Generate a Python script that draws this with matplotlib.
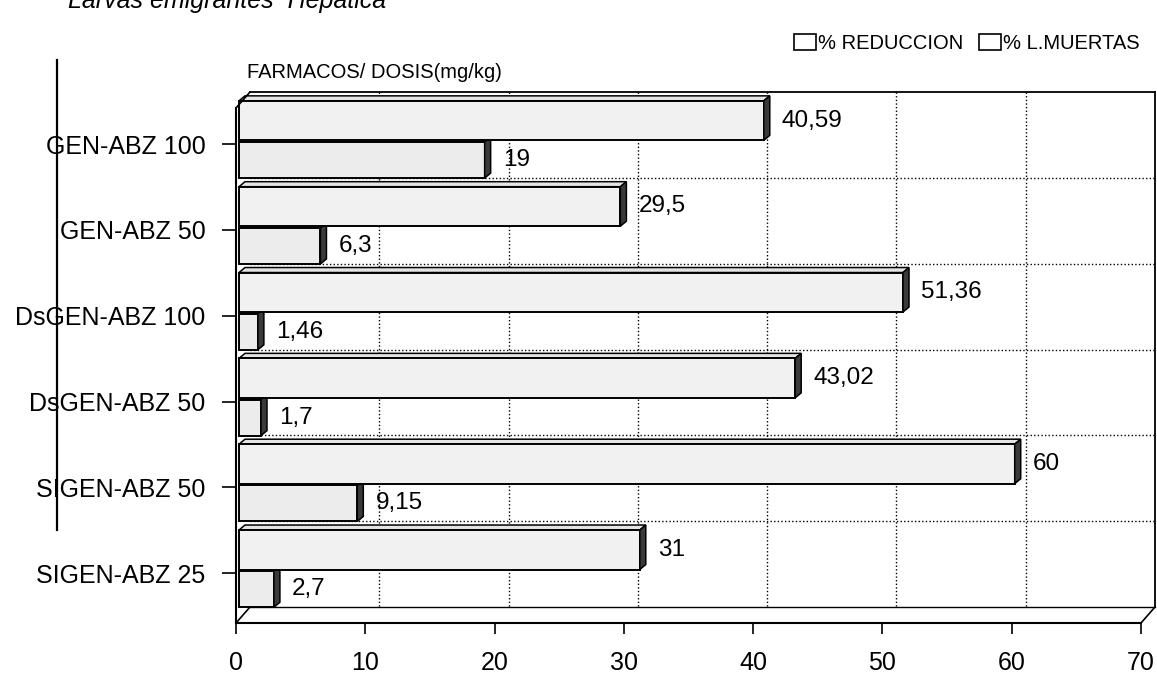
import numpy as np
import matplotlib
matplotlib.use("Agg")
import matplotlib.pyplot as plt
from matplotlib.patches import Polygon, Rectangle, ConnectionPatch
from matplotlib.lines import Line2D
import matplotlib.transforms as mtransforms

plt.rcParams['font.family'] = ['Liberation Sans', 'DejaVu Sans']

# ---- data ----
categories = ['GEN-ABZ 100', 'GEN-ABZ 50', 'DsGEN-ABZ 100', 'DsGEN-ABZ 50',
              'SIGEN-ABZ 50', 'SIGEN-ABZ 25']
reduccion = [40.59, 29.5, 51.36, 43.02, 60, 31]
muertas = [19, 6.3, 1.46, 1.7, 9.15, 2.7]
series_names = ['% REDUCCION', '% L.MUERTAS']
xticks = [0, 10, 20, 30, 40, 50, 60, 70]

W, H, DPI = 1157, 673, 100
fig = plt.figure(figsize=(W / DPI, H / DPI), dpi=DPI)
fig.patch.set_facecolor('white')

# front plane axes
x0px, x1px, ytop_px, ybot_px = 236, 1141, 108, 623
ax = fig.add_axes([x0px / W, 1 - ybot_px / H, (x1px - x0px) / W, (ybot_px - ytop_px) / H])
ax.set_autoscale_on(False)
ax.set_xlim(0, 70)
ax.set_ylim(6, 0)
ax.patch.set_alpha(0)

def shifted(dx, dy):
    return ax.transData + mtransforms.ScaledTranslation(dx / DPI, dy / DPI, fig.dpi_scale_trans)

back = shifted(14, 16)
barT = shifted(3, 8)

dotted = dict(color='black', lw=1.0, linestyle=(0, (1, 1.6)), zorder=1)
for v in xticks[1:-1]:
    ax.plot([v, v], [0, 6], transform=back, clip_on=False, **dotted)
for k in range(1, len(categories)):
    ax.plot([0, 70], [k, k], transform=back, clip_on=False, **dotted)

# back wall frame
solid = dict(color='black', lw=1.3, zorder=2, clip_on=False)
ax.plot([0, 70], [0, 0], transform=back, **solid)
ax.plot([70, 70], [0, 6], transform=back, **solid)
ax.plot([0, 70], [6, 6], transform=back, color='black', lw=1.0, zorder=2, clip_on=False)
for (px, py) in [(0, 0), (0, 6), (70, 6)]:
    cp = ConnectionPatch((px, py), (px, py), coordsA=ax.transData, coordsB=back,
                         color='black', lw=1.2, zorder=2)
    fig.add_artist(cp)

# ---- bars ----
idx = np.arange(len(categories))
fig.canvas.draw()
DX, DY = 6, 5

def decorate(rects, values, labels):
    for r, v, lab in zip(rects, values, labels):
        yc = r.get_y() + r.get_height() / 2
        z = 20 - yc
        r.set_zorder(z)
        yt, yb = r.get_y(), r.get_y() + r.get_height()
        p = barT.transform([(0, yt), (v, yt), (v, yb)])
        (xa, ya), (xb, _), (_, yd) = p
        top = Polygon([(xa, ya), (xb, ya), (xb + DX, ya + DY), (xa + DX, ya + DY)],
                      closed=True, transform=mtransforms.IdentityTransform(),
                      facecolor='#e4e4e4', edgecolor='black', lw=1.1, zorder=z - 0.01)
        side = Polygon([(xb, ya), (xb + DX, ya + DY), (xb + DX, yd + DY), (xb, yd)],
                       closed=True, transform=mtransforms.IdentityTransform(),
                       facecolor='#3a3a3a', edgecolor='black', lw=1.1, zorder=z + 0.01)
        ax.add_patch(top)
        ax.add_patch(side)
        top.set_clip_on(False)
        side.set_clip_on(False)
        ax.text(v + 1.4, yc, lab, transform=barT, va='center', ha='left',
                fontsize=17.5, zorder=40, clip_on=False)

fmt = lambda v: f'{v:g}'.replace('.', ',')
rects_r = ax.barh(idx + 0.24, reduccion, height=0.46, transform=barT,
                  facecolor='#f1f1f1', edgecolor='black', lw=1.4, clip_on=False)
rects_m = ax.barh(idx + 0.70, muertas, height=0.42, transform=barT,
                  facecolor='#ececec', edgecolor='black', lw=1.4, clip_on=False)
decorate(rects_r, reduccion, [fmt(v) for v in reduccion])
decorate(rects_m, muertas, [fmt(v) for v in muertas])

# ---- axes / ticks ----
for s in ['top', 'right']:
    ax.spines[s].set_visible(False)
for s in ['left', 'bottom']:
    ax.spines[s].set_linewidth(1.5)
    ax.spines[s].set_zorder(30)
ax.set_yticks(idx + 0.42)
ax.set_yticklabels(categories, fontsize=18)
ax.tick_params(axis='y', length=10, width=1.2, pad=12)
ax.set_xticks(xticks)
ax.set_xticklabels([str(t) for t in xticks], fontsize=18)
ax.tick_params(axis='x', length=8, width=1.2, pad=12)

fig.text(247 / W, 1 - 72 / H, 'FARMACOS/ DOSIS(mg/kg)', fontsize=14.5,
         ha='left', va='center')

# title, partly cut at the top edge as in the scan
fig.text(68 / W, 1 - 8 / H, 'Larvas emigrantes  Hepática', fontsize=18,
         style='italic', ha='left', va='baseline')

# left decorative line
fig.add_artist(Line2D([57 / W, 57 / W], [1 - 60 / H, 1 - 530 / H],
                      transform=fig.transFigure, color='black', lw=1.6))

# legend
handles = [Rectangle((0, 0), 1, 1, facecolor='white', edgecolor='black', lw=1.2)
           for _ in series_names]
fig.legend(handles, series_names, loc='upper right',
           bbox_to_anchor=(1148 / W, 1 - 26 / H), ncol=2, frameon=False,
           fontsize=14.5, handlelength=1.1, handleheight=0.8, handletextpad=0.1,
           columnspacing=0.8, borderaxespad=0)

fig.savefig('out.png', dpi=DPI, facecolor='white')
